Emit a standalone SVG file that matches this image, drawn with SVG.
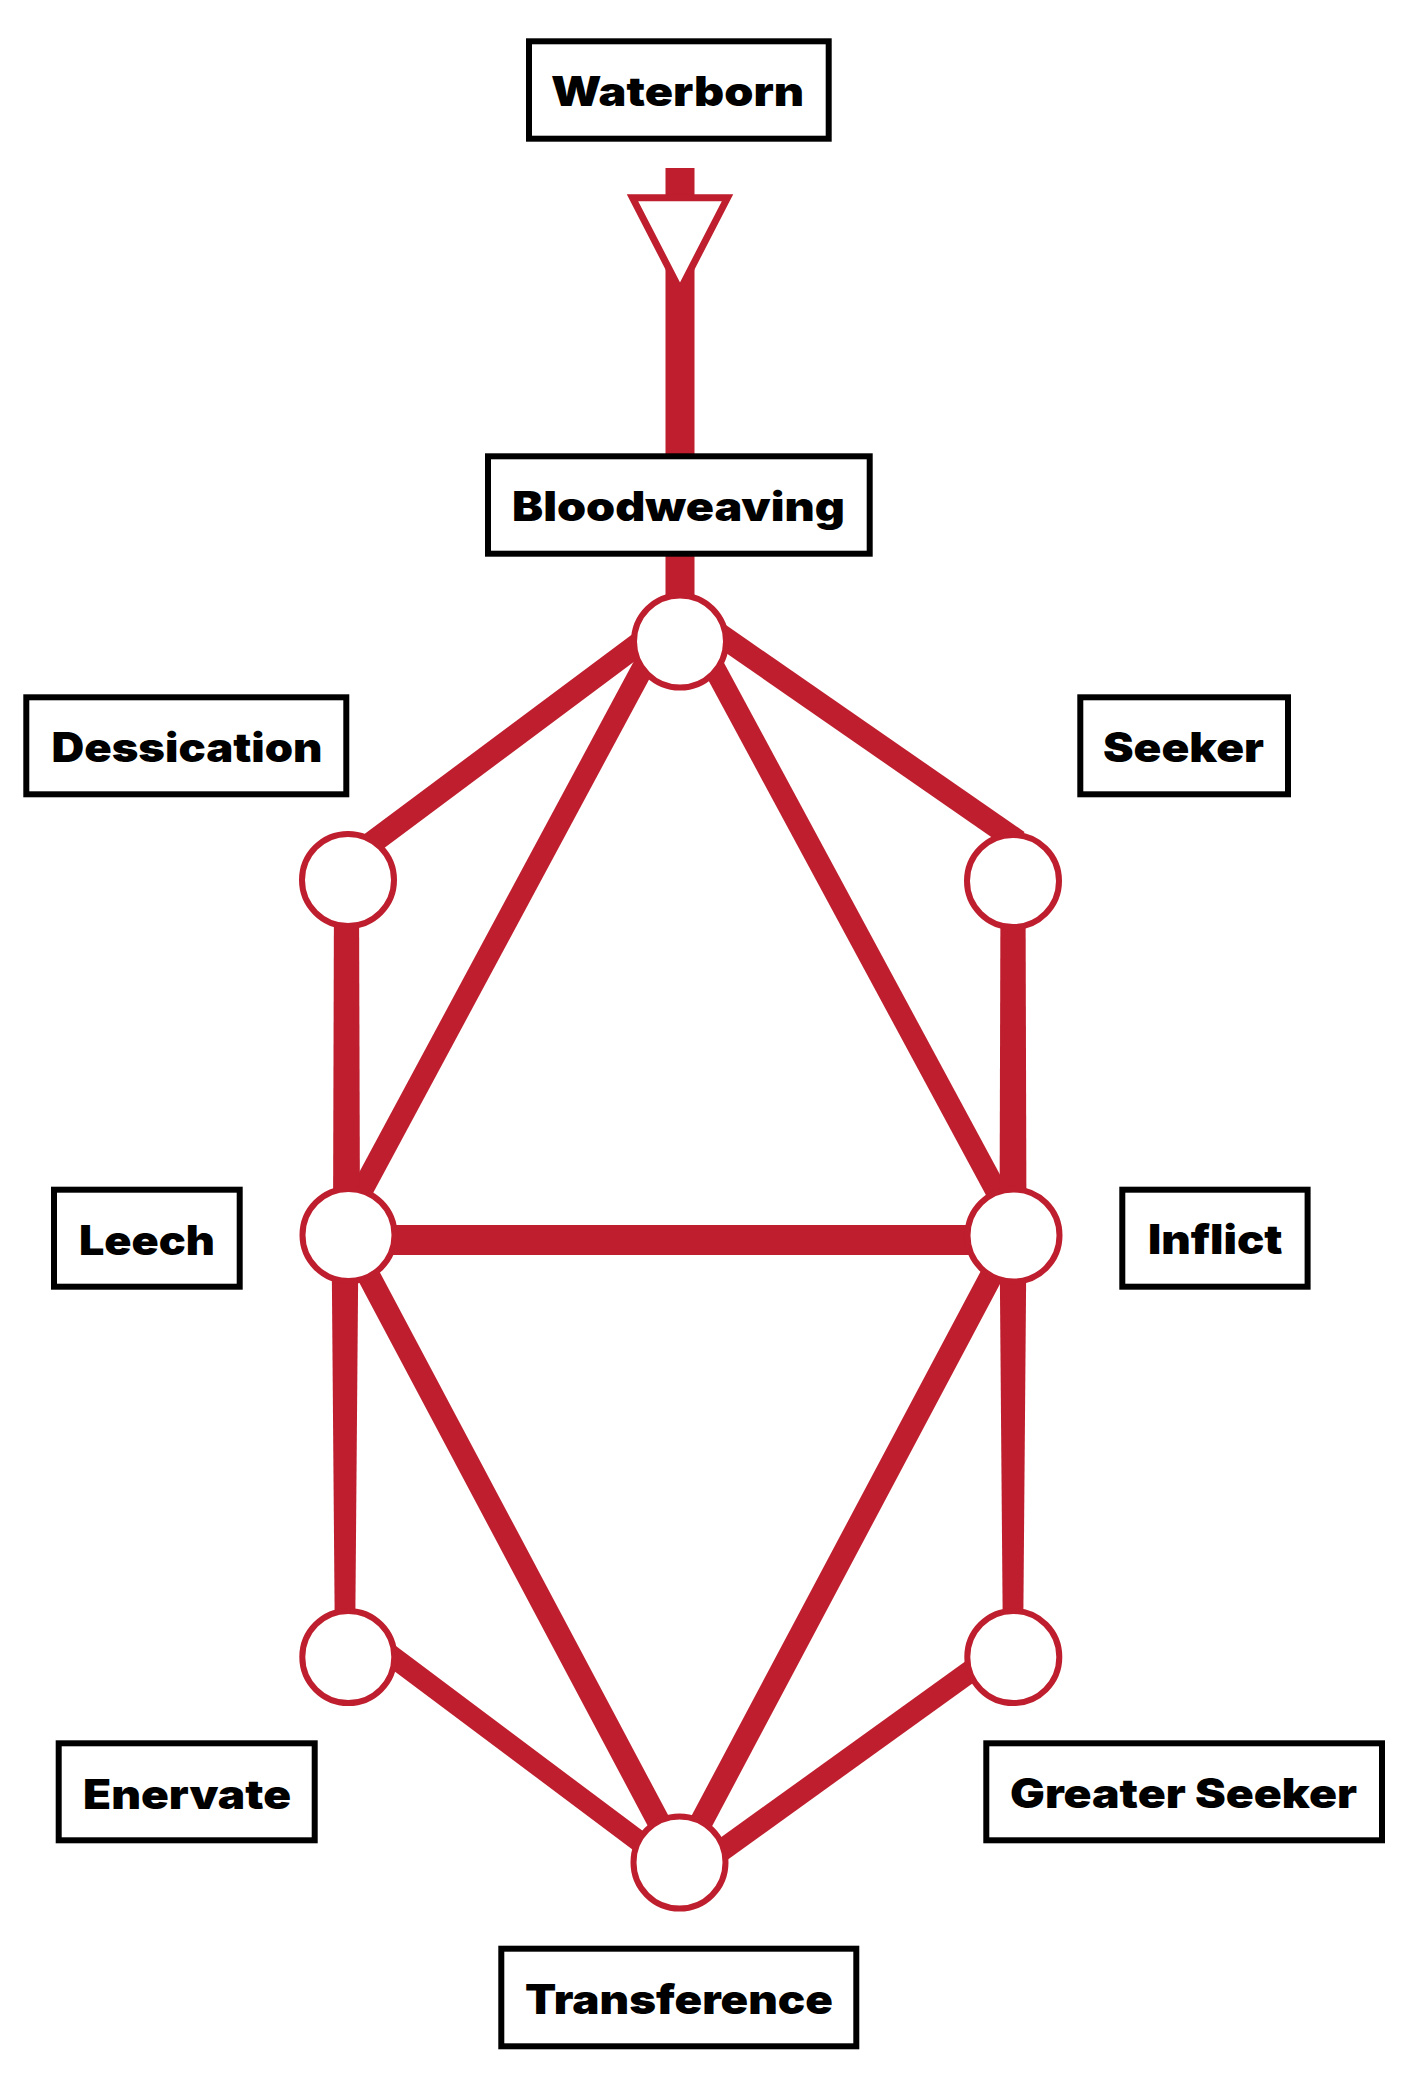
<svg xmlns="http://www.w3.org/2000/svg" width="1420" height="2087" viewBox="0 0 1420 2087">
<style>
.box rect{fill:#fff;stroke:#000;stroke-width:6}
.box text{font-family:Inter,"Open Sans","DejaVu Sans",sans-serif;font-weight:900;font-size:41px;fill:#000}
.edge{stroke:#BE1E2D;fill:none;stroke-linecap:butt}
.fillr{fill:#BE1E2D;stroke:none}
.node circle{fill:#fff;stroke:#BE1E2D;stroke-width:6}
</style>
<rect width="1420" height="2087" fill="#fff"/>
<g id="connectors">
  <rect class="fillr" x="665.5" y="168" width="29" height="290"/>
  <rect class="fillr" x="665.5" y="554" width="29" height="88"/>
  <polygon points="632.5,197.8 727.5,197.8 680,290" fill="#fff" stroke="#BE1E2D" stroke-width="7"/>
  <line class="edge" x1="660" y1="628" x2="365" y2="848" stroke-width="23"/>
  <line class="edge" x1="700" y1="621" x2="1018" y2="841.5" stroke-width="23"/>
  <line class="edge" x1="657" y1="641.5" x2="338" y2="1235" stroke-width="22"/>
  <line class="edge" x1="700" y1="641.5" x2="1020" y2="1235" stroke-width="22"/>
  <polygon class="fillr" points="334,880 359,880 360,1235 333,1235"/>
  <polygon class="fillr" points="1000.5,881 1025.5,881 1026.5,1235 999.5,1235"/>
  <rect class="fillr" x="347" y="1225" width="666" height="30"/>
  <polygon class="fillr" points="331.5,1235 358.5,1235 355,1657 335,1657"/>
  <polygon class="fillr" points="999.5,1235 1026.5,1235 1023,1657 1003,1657"/>
  <line class="edge" x1="347" y1="1235" x2="680" y2="1862" stroke-width="23"/>
  <line class="edge" x1="1013" y1="1235" x2="680" y2="1862" stroke-width="23"/>
  <line class="edge" x1="365" y1="1636" x2="660" y2="1857" stroke-width="21"/>
  <line class="edge" x1="1000" y1="1650" x2="700" y2="1866" stroke-width="22"/>
</g>
<g id="waterborn" class="box"><rect x="529" y="41.3" width="299.7" height="97.4"/><text x="551" y="106" textLength="253" lengthAdjust="spacingAndGlyphs">Waterborn</text></g>
<g id="bloodweaving" class="box"><rect x="488" y="456.3" width="381.7" height="97.4"/><text x="512" y="520.7" textLength="333" lengthAdjust="spacingAndGlyphs">Bloodweaving</text></g>
<g id="dessication" class="box"><rect x="26.3" y="697.3" width="320" height="97"/><text x="51.5" y="762.3" textLength="271" lengthAdjust="spacingAndGlyphs">Dessication</text></g>
<g id="seeker" class="box"><rect x="1080.3" y="697.3" width="207.7" height="97"/><text x="1103" y="761.7" textLength="161" lengthAdjust="spacingAndGlyphs">Seeker</text></g>
<g id="leech" class="box"><rect x="54" y="1189.7" width="185.7" height="97"/><text x="79" y="1255" textLength="136" lengthAdjust="spacingAndGlyphs">Leech</text></g>
<g id="inflict" class="box"><rect x="1122.3" y="1189.7" width="185.3" height="97"/><text x="1148" y="1254.3" textLength="134.5" lengthAdjust="spacingAndGlyphs">Inflict</text></g>
<g id="enervate" class="box"><rect x="58.7" y="1743.3" width="256" height="97"/><text x="83" y="1809" textLength="208" lengthAdjust="spacingAndGlyphs">Enervate</text></g>
<g id="greater-seeker" class="box"><rect x="986.3" y="1743.3" width="395.7" height="97"/><text x="1010" y="1808.3" textLength="347" lengthAdjust="spacingAndGlyphs">Greater Seeker</text></g>
<g id="transference" class="box"><rect x="501.3" y="1948.7" width="355" height="97.6"/><text x="525" y="2014" textLength="308" lengthAdjust="spacingAndGlyphs">Transference</text></g>
<g id="node-top" class="node"><circle cx="680" cy="641.5" r="46"/></g>
<g id="node-dessication" class="node"><circle cx="348" cy="880" r="46"/></g>
<g id="node-seeker" class="node"><circle cx="1013" cy="881" r="46"/></g>
<g id="node-leech" class="node"><circle cx="348.5" cy="1235" r="46"/></g>
<g id="node-inflict" class="node"><circle cx="1013.5" cy="1235.5" r="46"/></g>
<g id="node-enervate" class="node"><circle cx="348.3" cy="1657" r="46"/></g>
<g id="node-greater-seeker" class="node"><circle cx="1013.3" cy="1657" r="46"/></g>
<g id="node-transference" class="node"><circle cx="679.5" cy="1862.5" r="46"/></g>
</svg>
